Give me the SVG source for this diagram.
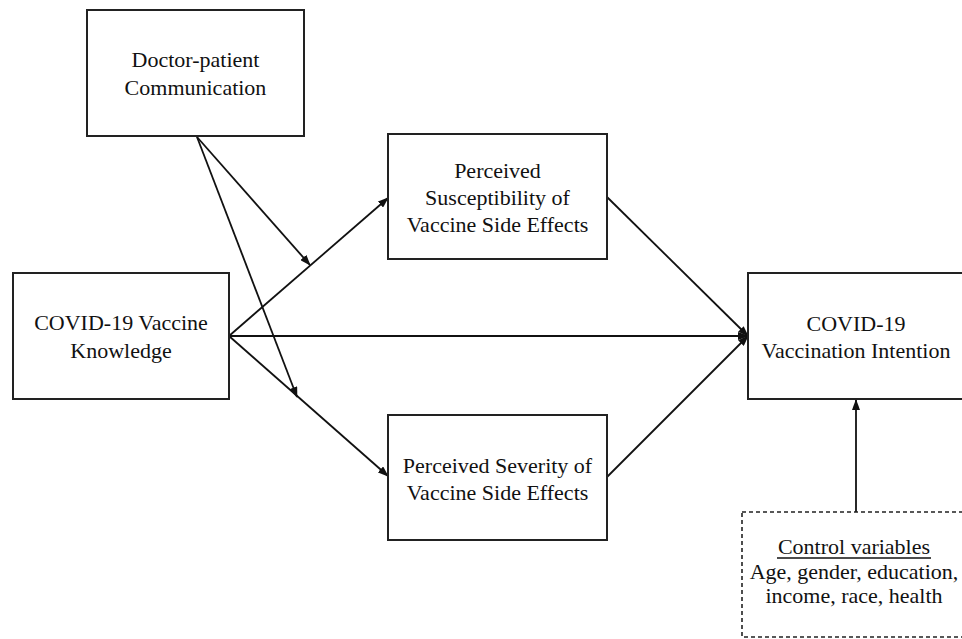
<svg xmlns="http://www.w3.org/2000/svg" width="962" height="639" viewBox="0 0 962 639">
<defs>
<marker id="ah" markerWidth="11" markerHeight="8" refX="10" refY="4" orient="auto" markerUnits="userSpaceOnUse">
<path d="M0,0 L11,4 L0,8 Z" fill="#111"/>
</marker>
<style>
.box{fill:#fff;stroke:#222;stroke-width:2}
.dash{fill:#fff;stroke:#222;stroke-width:1.6;stroke-dasharray:4,3}
.t{font-family:"Liberation Serif","Times New Roman",serif;font-size:22px;fill:#111;text-anchor:middle}
.c{fill:none;stroke:#111;stroke-width:1.8}
</style>
</defs>
<rect width="962" height="639" fill="#fff"/>
<g id="connectors">
<line class="c" x1="197" y1="137" x2="310" y2="265" marker-end="url(#ah)"/>
<line class="c" x1="197" y1="137" x2="297" y2="397" marker-end="url(#ah)"/>
<line class="c" x1="229" y1="336" x2="388" y2="198" marker-end="url(#ah)"/>
<line class="c" x1="229" y1="336" x2="748" y2="336" marker-end="url(#ah)"/>
<line class="c" x1="229" y1="336" x2="388" y2="476" marker-end="url(#ah)"/>
<line class="c" x1="607" y1="197" x2="748" y2="336" marker-end="url(#ah)"/>
<line class="c" x1="607" y1="477" x2="748" y2="336" marker-end="url(#ah)"/>
<line class="c" x1="856" y1="512" x2="856" y2="400" marker-end="url(#ah)"/>
</g>
<g id="doctor">
<rect class="box" x="87" y="10" width="217" height="126"/>
<text class="t" x="195.5" y="67">Doctor-patient</text>
<text class="t" x="195.5" y="95">Communication</text>
</g>
<g id="knowledge">
<rect class="box" x="13" y="273" width="216" height="126"/>
<text class="t" x="121" y="330">COVID-19 Vaccine</text>
<text class="t" x="121" y="358">Knowledge</text>
</g>
<g id="susceptibility">
<rect class="box" x="388" y="134" width="219" height="125"/>
<text class="t" x="497.5" y="178">Perceived</text>
<text class="t" x="497.5" y="205">Susceptibility of</text>
<text class="t" x="497.5" y="232">Vaccine Side Effects</text>
</g>
<g id="severity">
<rect class="box" x="388" y="415" width="219" height="125"/>
<text class="t" x="497.5" y="473">Perceived Severity of</text>
<text class="t" x="497.5" y="500">Vaccine Side Effects</text>
</g>
<g id="intention">
<rect class="box" x="748" y="273" width="217" height="126"/>
<text class="t" x="856" y="331">COVID-19</text>
<text class="t" x="856" y="358">Vaccination Intention</text>
</g>
<g id="control">
<rect class="dash" x="742" y="512" width="224" height="125"/>
<text class="t" x="854" y="554">Control variables</text>
<line x1="777" y1="558" x2="931" y2="558" stroke="#111" stroke-width="1.4"/>
<text class="t" x="854" y="579">Age, gender, education,</text>
<text class="t" x="854" y="603">income, race, health</text>
</g>
</svg>
